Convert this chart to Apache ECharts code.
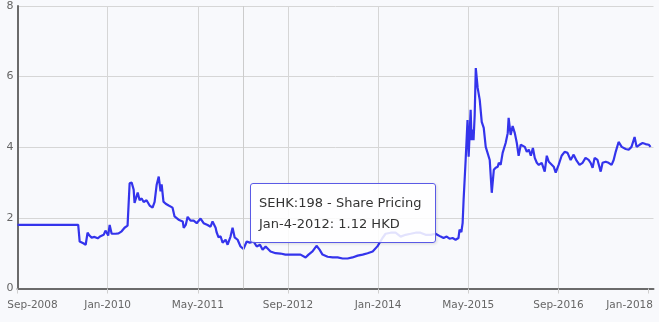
<!DOCTYPE html>
<html>
<head>
<meta charset="utf-8">
<script src="https://cdn.jsdelivr.net/npm/echarts@6/dist/echarts.min.js"></script>
<style>
  html, body { margin: 0; padding: 0; background: #f8f9fc; }
  #chart { width: 659px; height: 322px; }
</style>
</head>
<body>
<div id="chart"></div>
<script>
// SEHK:198 daily closing price (HKD)
const seriesName = 'SEHK:198 - Share Pricing';

const tradeDates = [
  '2008-09-01','2009-07-25','2009-08-02','2009-08-22','2009-09-04','2009-09-14','2009-09-24','2009-10-06',
  '2009-10-22','2009-11-08','2009-11-23','2009-12-10','2009-12-20','2010-01-04','2010-01-12','2010-01-23',
  '2010-02-13','2010-02-27','2010-03-16','2010-04-01','2010-04-17','2010-04-28','2010-05-09','2010-05-20',
  '2010-05-25','2010-06-11','2010-06-21','2010-07-02','2010-07-13','2010-07-29','2010-08-15','2010-08-31',
  '2010-09-11','2010-09-22','2010-10-03','2010-10-13','2010-10-19','2010-10-29','2010-11-10','2010-11-26',
  '2010-12-17','2010-12-28','2011-01-19','2011-02-10','2011-02-15','2011-02-25','2011-03-07','2011-03-23',
  '2011-04-09','2011-04-25','2011-05-05','2011-05-16','2011-06-02','2011-06-23','2011-07-09','2011-07-20',
  '2011-08-06','2011-08-11','2011-08-22','2011-09-02','2011-09-13','2011-09-29','2011-10-10','2011-10-26',
  '2011-11-06','2011-11-17','2011-12-03','2011-12-19','2012-01-04','2012-01-22','2012-02-07','2012-02-27',
  '2012-03-15','2012-04-02','2012-04-16','2012-05-02','2012-05-29','2012-06-25','2012-07-22','2012-08-18',
  '2012-09-15','2012-10-12','2012-11-08','2012-12-05','2012-12-21','2013-01-12','2013-02-03','2013-02-18',
  '2013-03-05','2013-04-02','2013-04-29','2013-05-26','2013-06-22','2013-07-19','2013-08-15','2013-09-12',
  '2013-10-09','2013-11-05','2013-12-02','2013-12-29','2014-01-25','2014-02-10','2014-03-08','2014-04-04',
  '2014-05-01','2014-05-28','2014-06-24','2014-07-21','2014-08-17','2014-09-14','2014-10-11','2014-11-07',
  '2014-12-04','2014-12-20','2015-01-06','2015-01-22','2015-02-07','2015-02-22','2015-03-09','2015-03-15',
  '2015-03-25','2015-04-01','2015-04-06','2015-04-17','2015-04-27','2015-05-03','2015-05-14','2015-05-19',
  '2015-05-25','2015-05-30','2015-06-05','2015-06-11','2015-06-21','2015-07-02','2015-07-13','2015-07-24',
  '2015-08-04','2015-08-15','2015-08-26','2015-09-06','2015-09-17','2015-09-27','2015-10-08','2015-10-14',
  '2015-10-24','2015-11-04','2015-11-20','2015-12-01','2015-12-06','2015-12-17','2015-12-28','2016-01-09',
  '2016-01-20','2016-01-30','2016-02-10','2016-02-20','2016-03-02','2016-03-13','2016-03-24','2016-04-04',
  '2016-04-15','2016-04-25','2016-05-06','2016-05-17','2016-06-02','2016-06-18','2016-06-29','2016-07-10',
  '2016-07-21','2016-08-06','2016-08-17','2016-09-02','2016-09-18','2016-10-04','2016-10-20','2016-11-06',
  '2016-11-22','2016-12-08','2016-12-24','2017-01-10','2017-01-26','2017-02-11','2017-02-21','2017-03-03',
  '2017-03-14','2017-03-30','2017-04-16','2017-04-26','2017-05-13','2017-05-29','2017-06-14','2017-06-25',
  '2017-07-06','2017-07-22','2017-08-08','2017-08-30','2017-09-15','2017-09-30','2017-10-17','2017-10-28',
  '2017-11-13','2017-11-29','2017-12-15','2018-01-02','2018-01-12','2018-01-23'
];

const closePrices = [
  1.80,1.80,1.33,1.28,1.24,1.58,1.50,1.44,
  1.46,1.42,1.48,1.52,1.64,1.50,1.80,1.55,
  1.55,1.56,1.62,1.72,1.78,2.98,3.00,2.80,
  2.42,2.72,2.50,2.55,2.45,2.50,2.35,2.29,
  2.45,2.94,3.17,2.75,2.95,2.46,2.40,2.35,
  2.29,2.04,1.95,1.90,1.72,1.80,2.03,1.92,
  1.92,1.85,1.90,1.98,1.85,1.80,1.75,1.90,
  1.72,1.60,1.45,1.48,1.30,1.38,1.24,1.47,
  1.72,1.45,1.38,1.19,1.12,1.33,1.30,1.33,
  1.19,1.24,1.10,1.19,1.05,1.00,0.99,0.96,
  0.96,0.96,0.96,0.88,0.96,1.05,1.21,1.10,
  0.96,0.90,0.88,0.88,0.85,0.85,0.88,0.93,
  0.96,1.00,1.05,1.20,1.43,1.55,1.58,1.58,
  1.47,1.52,1.55,1.58,1.58,1.52,1.52,1.55,
  1.47,1.43,1.47,1.41,1.43,1.38,1.43,1.67,
  1.60,1.86,2.50,3.64,4.77,3.73,5.06,4.20,
  4.50,4.20,4.90,6.24,5.68,5.34,4.72,4.55,
  4.01,3.98,3.64,2.71,3.36,3.42,3.45,3.56,
  3.50,3.84,4.12,4.40,4.83,4.35,4.60,4.40,
  4.12,3.76,4.07,4.12,4.01,3.87,3.93,3.76,
  3.98,3.70,3.56,3.50,3.56,3.31,3.76,3.59,
  3.59,3.45,3.28,3.50,3.76,3.87,3.84,3.64,
  3.79,3.62,3.50,3.56,3.70,3.64,3.56,3.42,
  3.70,3.64,3.31,3.56,3.59,3.56,3.50,3.64,
  3.87,4.15,4.01,3.95,3.93,4.01,4.29,4.01,
  4.07,4.12,4.09,4.07,4.01,4.00
];

const xTickLabels = ['Sep-2008','Jan-2010','May-2011','Sep-2012','Jan-2014','May-2015','Sep-2016','Jan-2018'];
const yTickValues = [0, 2, 4, 6, 8];
const axisEndDate = '2018-01-28';
const tooltipDate = '2012-01-04';

const MONTHS = ['Jan','Feb','Mar','Apr','May','Jun','Jul','Aug','Sep','Oct','Nov','Dec'];

// Fractional months elapsed since 1 Sep 2008
function monthsSinceStart(iso) {
  const [y, m, d] = iso.split('-').map(Number);
  const daysInMonth = new Date(y, m, 0).getDate();
  return (y - 2008) * 12 + (m - 9) + (d - 1) / daysInMonth;
}
function labelToMonths(label) {
  const [mon, yr] = label.split('-');
  const mm = String(MONTHS.indexOf(mon) + 1).padStart(2, '0');
  return monthsSinceStart(yr + '-' + mm + '-01');
}
function formatDay(iso) {
  const [y, m, d] = iso.split('-').map(Number);
  return MONTHS[m - 1] + '-' + d + '-' + y;
}

const tickMonths = xTickLabels.map(labelToMonths);
const points = tradeDates.map((d, i) => [monthsSinceStart(d), closePrices[i]]);
const tipIndex = tradeDates.indexOf(tooltipDate);

const chart = echarts.init(document.getElementById('chart'), null, { renderer: 'canvas' });

const labelFont = { fontFamily: 'DejaVu Sans', fontSize: 10.5, color: '#666' };

chart.setOption({
  backgroundColor: '#f8f9fc',
  animation: false,
  grid: { left: 17.5, right: 5.5, top: 6, bottom: 33.5, containLabel: false },
  xAxis: {
    type: 'value',
    min: 0,
    max: monthsSinceStart(axisEndDate),
    interval: 16,
    axisLine: { show: true, onZero: false, lineStyle: { color: '#6b6b6b', width: 2 } },
    axisTick: { show: true, length: 5, customValues: tickMonths, lineStyle: { color: '#cfcfcf' } },
    splitLine: { show: true, showMaxLine: false, lineStyle: { color: '#d6d6d6', width: 1 } },
    axisLabel: {
      customValues: tickMonths,
      margin: 11,
      ...labelFont,
      formatter: function (value) {
        const i = tickMonths.findIndex(t => Math.abs(t - value) < 1e-6);
        if (i < 0) return '';
        if (i === 0) return '{first|' + xTickLabels[i] + '}';
        if (i === xTickLabels.length - 1) return '{last|' + xTickLabels[i] + '}';
        return xTickLabels[i];
      },
      rich: {
        first: { ...labelFont, padding: [0, 0, 0, 30] },
        last: { ...labelFont, padding: [0, 38, 0, 0] }
      }
    }
  },
  yAxis: {
    type: 'value',
    min: yTickValues[0],
    max: yTickValues[yTickValues.length - 1],
    interval: 2,
    axisLine: { show: true, lineStyle: { color: '#6b6b6b', width: 2 } },
    axisTick: { show: false },
    splitLine: { show: true, lineStyle: { color: '#d6d6d6', width: 1 } },
    axisLabel: { margin: 4, fontFamily: 'DejaVu Sans', fontSize: 11, color: '#666' }
  },
  tooltip: {
    trigger: 'axis',
    triggerOn: 'none',
    alwaysShowContent: true,
    transitionDuration: 0,
    backgroundColor: 'rgba(255,255,255,0.86)',
    borderColor: '#5a5ae6',
    borderWidth: 1.5,
    borderRadius: 3,
    padding: [8, 14, 8, 8],
    textStyle: { fontFamily: 'DejaVu Sans', fontSize: 13, color: '#333', lineHeight: 21 },
    extraCssText: 'box-shadow: 1px 1px 3px rgba(0,0,0,0.12); line-height: 21px;',
    axisPointer: {
      type: 'line',
      lineStyle: { color: '#cccccc', width: 1, type: 'solid' },
      label: { show: false }
    },
    position: function () {
      const p = chart.convertToPixel({ gridIndex: 0 }, points[tipIndex]);
      return [p[0] + 7, p[1] - 66];
    },
    formatter: function (params) {
      const i = params[0].dataIndex;
      return seriesName + '<br>' + formatDay(tradeDates[i]) + ': ' + closePrices[i].toFixed(2) + ' HKD';
    }
  },
  series: [{
    name: seriesName,
    type: 'line',
    data: points,
    symbol: 'none',
    showSymbol: false,
    emphasis: { disabled: true },
    lineStyle: { color: '#3434ec', width: 2.2 },
    itemStyle: { color: '#3434ec' }
  }]
});

chart.dispatchAction({ type: 'showTip', seriesIndex: 0, dataIndex: tipIndex });
</script>
</body>
</html>
